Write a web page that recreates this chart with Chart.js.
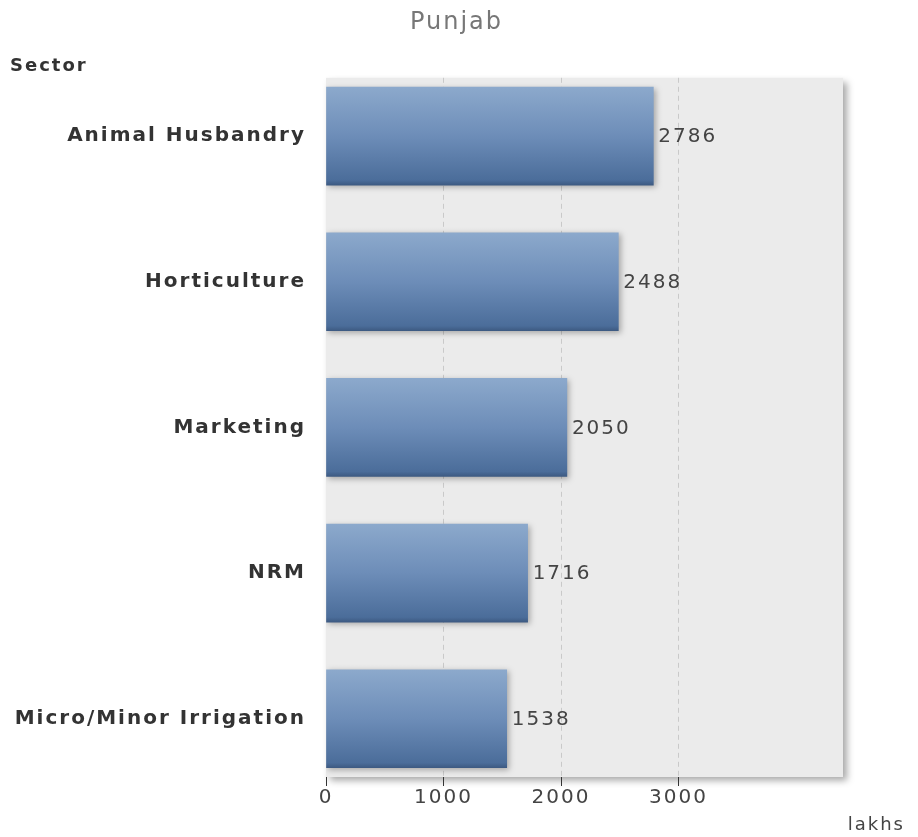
<!DOCTYPE html>
<html>
<head>
<meta charset="utf-8">
<script src="https://cdn.jsdelivr.net/npm/chart.js@4"></script>
<style>
  html, body { margin: 0; padding: 0; background: #fff; }
  #wrap { width: 918px; height: 837px; position: relative; }
</style>
</head>
<body>
<div id="wrap"><canvas id="chart"></canvas></div>
<script>
const categories = ['Animal Husbandry', 'Horticulture', 'Marketing', 'NRM', 'Micro/Minor Irrigation'];
const amounts = [2786, 2488, 2050, 1716, 1538];
const xTicks = [0, 1000, 2000, 3000];

const FONT = "'DejaVu Sans', Verdana, sans-serif";
const SPACING = '2px';

// the source picture is stretched sideways, spread letters a bit to match
const setSpacing = chart => { chart.ctx.letterSpacing = SPACING; };

const chartPlugin = {
  id: 'look',
  beforeUpdate: setSpacing,
  beforeLayout: setSpacing,
  beforeDraw(chart) {
    setSpacing(chart);
    const { ctx, chartArea: a } = chart;
    ctx.save();
    ctx.shadowColor = 'rgba(0,0,0,0.35)';
    ctx.shadowBlur = 7;
    ctx.shadowOffsetX = 4;
    ctx.shadowOffsetY = 4;
    ctx.fillStyle = '#ebebeb';
    ctx.fillRect(a.left, a.top, a.right - a.left, a.bottom - a.top);
    ctx.restore();
  },
  beforeDatasetsDraw(chart) {
    const ctx = chart.ctx;
    ctx.save();
    ctx.shadowColor = 'rgba(0,0,0,0.3)';
    ctx.shadowBlur = 6;
    ctx.shadowOffsetX = 2;
    ctx.shadowOffsetY = 2;
  },
  afterDatasetsDraw(chart) {
    const ctx = chart.ctx;
    ctx.restore();
    ctx.save();
    ctx.font = '20px ' + FONT;
    ctx.fillStyle = '#444';
    ctx.textAlign = 'left';
    ctx.textBaseline = 'middle';
    chart.getDatasetMeta(0).data.forEach((bar, i) => {
      ctx.fillText(String(amounts[i]), bar.x + 5, bar.y + 1);
    });
    ctx.restore();
  },
  afterDraw(chart) {
    const ctx = chart.ctx;
    ctx.save();
    ctx.font = 'bold 18px ' + FONT;
    ctx.fillStyle = '#333';
    ctx.textAlign = 'left';
    ctx.textBaseline = 'middle';
    ctx.fillText('Sector', 10, 66);
    ctx.restore();
  }
};

function barGradient(context) {
  const chart = context.chart;
  if (!chart.chartArea || !chart.scales.y) return '#6a89b3';
  const yc = chart.scales.y.getPixelForValue(context.dataIndex);
  const g = chart.ctx.createLinearGradient(0, yc - 49, 0, yc + 49);
  g.addColorStop(0, '#8ca9cc');
  g.addColorStop(0.5, '#6d8db8');
  g.addColorStop(0.95, '#4b6d9a');
  g.addColorStop(1, '#3d5a82');
  return g;
}

new Chart(document.getElementById('chart'), {
  type: 'bar',
  data: {
    datasets: [{
      label: 'lakhs',
      data: amounts.map((v, i) => ({ x: v, y: i })),
      backgroundColor: barGradient,
      borderWidth: 0,
      barThickness: 98
    }]
  },
  options: {
    indexAxis: 'y',
    responsive: true,
    maintainAspectRatio: false,
    animation: false,
    layout: { padding: { top: 0, left: 8, right: 13, bottom: 0 } },
    plugins: {
      legend: { display: false },
      tooltip: { enabled: false },
      title: {
        display: true,
        text: 'Punjab',
        color: '#777',
        font: { family: FONT, size: 24, weight: 'normal' },
        padding: { top: 8, bottom: 41 }
      },
      subtitle: {
        display: true,
        text: 'lakhs',
        position: 'bottom',
        align: 'end',
        color: '#444',
        font: { family: FONT, size: 18, weight: 'normal' },
        padding: { top: 7.4, bottom: 1 }
      }
    },
    scales: {
      x: {
        type: 'linear',
        min: 0,
        max: 4400,
        afterBuildTicks: s => { s.ticks = xTicks.map(v => ({ value: v })); },
        afterFit: s => { s.height = 30; },
        ticks: {
          callback: v => String(v),
          color: '#444',
          font: { family: FONT, size: 20 },
          padding: 0,
          maxRotation: 0
        },
        grid: {
          color: c => (c.tick && c.tick.value === 0 ? 'rgba(0,0,0,0)' : '#c9c9c9'),
          tickColor: '#333',
          tickLength: 9,
          tickBorderDash: []
        },
        border: { display: false, dash: [5, 4] }
      },
      y: {
        type: 'linear',
        reverse: true,
        offset: false,
        min: -0.4,
        max: 4.4,
        afterBuildTicks: s => { s.ticks = categories.map((c, i) => ({ value: i })); },
        afterFit: s => { s.width = 318; },
        ticks: {
          callback: v => categories[v],
          color: '#333',
          font: { family: FONT, size: 20, weight: 'bold' },
          padding: 20
        },
        grid: { display: false, drawTicks: false, offset: false },
        border: { display: false }
      },
      y2: {
        type: 'linear',
        position: 'right',
        afterFit: s => { s.width = 62; },
        ticks: { display: false },
        grid: { display: false, drawTicks: false },
        border: { display: false }
      }
    }
  },
  plugins: [chartPlugin]
});
</script>
</body>
</html>
